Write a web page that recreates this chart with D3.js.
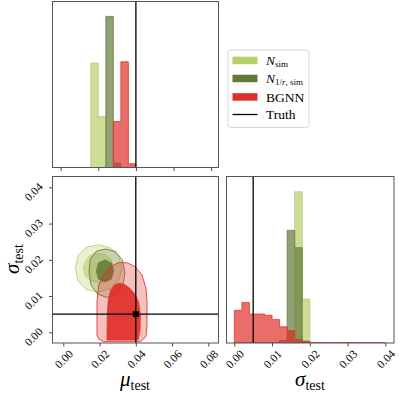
<!DOCTYPE html>
<html><head><meta charset="utf-8">
<script src="https://cdn.jsdelivr.net/npm/d3@7"></script>
<style>body{margin:0;background:#fff}svg{display:block}</style>
</head><body>
<svg id="c" width="399" height="396"></svg>
<script>
// ---------- data ----------
const muTicks = [0, 0.02, 0.04, 0.06, 0.08];
const sigmaTicks = [0, 0.01, 0.02, 0.03, 0.04];
const truthMu = 0.04, truthSigma = 0.005;

// mu histograms: 20 bins, width 0.004, from 0
const muBinStart = 0, muBinWidth = 0.004;
const muNsim  = [0,0,0,0,168,82,0,0,0,0,0,0,0,0,0,0,0,0,0,0];
const muN1r   = [0,0,0,0,0,0,243,7,0,0,0,0,0,0,0,0,0,0,0,0];
const muBGNN  = [0,0,0,0,0,0,0,74,170,6,0,0,0,0,0,0,0,0,0,0];

// sigma histograms: 20 bins, width 0.002, from 0
const sgBinStart = 0, sgBinWidth = 0.002;
const sgNsim  = [0,0,0,0,0,0,0,25,365,106,0,0,0,0,0,0,0,0,0,0];
const sgN1r   = [0,0,0,0,0,0,6,272,230,4,0,0,0,0,0,0,0,0,0,0];
const sgBGNN  = [79,98,70,70,67,57,39,30,8,4,0,0,0,0,0,0,0,0,0,0];

// 2D credible contours [mu, sigma]
const nsimOuter = [[0.03247,0.01760],[0.03073,0.02077],[0.02604,0.02331],[0.01953,0.02414],[0.01308,0.02353],[0.00839,0.02132],[0.00662,0.01760],[0.00811,0.01415],[0.01252,0.01181],[0.01953,0.01112],[0.02632,0.01208],[0.03073,0.01443]];
const nsimInner = [[0.02759,0.01774],[0.02648,0.01994],[0.02317,0.02146],[0.01942,0.02174],[0.01490,0.02132],[0.01225,0.01967],[0.01114,0.01774],[0.01225,0.01553],[0.01528,0.01415],[0.01942,0.01374],[0.02356,0.01415],[0.02648,0.01553]];
const n1rOuter = [[0.03404,0.01636],[0.03266,0.01994],[0.02880,0.02229],[0.02356,0.02298],[0.01832,0.02243],[0.01490,0.02022],[0.01418,0.01663],[0.01528,0.01305],[0.01887,0.01057],[0.02411,0.00960],[0.02963,0.01070],[0.03294,0.01305]];
const n1rInner = [[0.02770,0.01691],[0.02648,0.01912],[0.02301,0.01994],[0.01942,0.01912],[0.01832,0.01691],[0.01942,0.01470],[0.02301,0.01388],[0.02648,0.01470]];
const bgnnOuter = [[0.01859,0.00844],[0.01953,0.01305],[0.02229,0.01581],[0.02593,0.01810],[0.03057,0.01920],[0.03514,0.01920],[0.03972,0.01810],[0.04342,0.01581],[0.04563,0.01214],[0.04618,0.00844],[0.04618,0.00201],[0.04563,-0.00121],[0.04248,-0.00259],[0.02229,-0.00259],[0.01953,-0.00185],[0.01859,-0.00074]];
const bgnnInner = [[0.02411,-0.00212],[0.02428,0.00477],[0.02483,0.00891],[0.02604,0.01139],[0.02797,0.01291],[0.03073,0.01352],[0.03377,0.01319],[0.03680,0.01208],[0.03956,0.01043],[0.04149,0.00836],[0.04248,0.00477],[0.04232,0.00063],[0.04121,-0.00212]];

// ---------- styles ----------
const cLight = "#b5cf6b", cDark = "#637939", cRed = "#e02f28";
const serif = "'Liberation Serif','DejaVu Serif',serif";

const svg = d3.select("#c");
const P = {
  tl: {x0:52.5, x1:218.5, y0:1.5, y1:167.5},
  bl: {x0:52.5, x1:218.5, y0:176.5, y1:343},
  br: {x0:226.5, x1:394, y0:176.5, y1:343}
};
const xTop = d3.scaleLinear().domain([-0.00436, 0.08394]).range([P.tl.x0, P.tl.x1]);
const yTop = d3.scaleLinear().domain([0, 267]).range([P.tl.y1, P.tl.y0]);
const xBL = d3.scaleLinear().domain([-0.00596, 0.08563]).range([P.bl.x0, P.bl.x1]);
const yBL = d3.scaleLinear().domain([-0.00295, 0.04298]).range([P.bl.y1, P.bl.y0]);
const xBR = d3.scaleLinear().domain([-0.00207, 0.0423]).range([P.br.x0, P.br.x1]);
const yBR = d3.scaleLinear().domain([0, 402]).range([P.br.y1, P.br.y0]);

const defs = svg.append("defs");
Object.entries(P).forEach(([k,p]) => {
  defs.append("clipPath").attr("id","clip-"+k).append("rect")
    .attr("x",p.x0).attr("y",p.y0).attr("width",p.x1-p.x0).attr("height",p.y1-p.y0);
});

function hist(g, vals, start, w, x, y, color) {
  const pts = vals.map((v,i) => [start + i*w, v]);
  pts.push([start + vals.length*w, vals[vals.length-1]]);
  const area = d3.area().curve(d3.curveStepAfter)
    .x(d => x(d[0])).y0(y(0)).y1(d => y(d[1]));
  g.append("path").attr("d", area(pts))
    .attr("fill", color).attr("fill-opacity", 0.7)
    .attr("stroke", color).attr("stroke-opacity", 0.75).attr("stroke-width", 1);
}

// top histogram
const gT = svg.append("g").attr("clip-path","url(#clip-tl)");
hist(gT, muNsim, muBinStart, muBinWidth, xTop, yTop, cLight);
hist(gT, muN1r, muBinStart, muBinWidth, xTop, yTop, cDark);
hist(gT, muBGNN, muBinStart, muBinWidth, xTop, yTop, cRed);
gT.append("line").attr("x1",xTop(truthMu)).attr("x2",xTop(truthMu))
  .attr("y1",P.tl.y0).attr("y2",P.tl.y1).attr("stroke","#000").attr("stroke-width",1.3);

// right histogram
const gR = svg.append("g").attr("clip-path","url(#clip-br)");
hist(gR, sgNsim, sgBinStart, sgBinWidth, xBR, yBR, cLight);
hist(gR, sgN1r, sgBinStart, sgBinWidth, xBR, yBR, cDark);
hist(gR, sgBGNN, sgBinStart, sgBinWidth, xBR, yBR, cRed);
gR.append("line").attr("x1",xBR(truthSigma)).attr("x2",xBR(truthSigma))
  .attr("y1",P.br.y0).attr("y2",P.br.y1).attr("stroke","#000").attr("stroke-width",1.3);

// contours
const gC = svg.append("g").attr("clip-path","url(#clip-bl)");
const line = d3.line().curve(d3.curveLinearClosed).x(d => xBL(d[0])).y(d => yBL(d[1]));
function contour(outer, inner, color, aOut, aIn) {
  gC.append("path").attr("d", line(outer)).attr("fill", color).attr("fill-opacity", aOut)
    .attr("stroke", color).attr("stroke-width", 1).attr("stroke-opacity", 0.85);
  gC.append("path").attr("d", line(inner)).attr("fill", color).attr("fill-opacity", aIn)
    .attr("stroke", color).attr("stroke-width", 1).attr("stroke-opacity", 0.85);
}
contour(nsimOuter, nsimInner, cLight, 0.3, 0.55);
contour(n1rOuter, n1rInner, cDark, 0.25, 0.85);
contour(bgnnOuter, bgnnInner, cRed, 0.3, 0.92);
gC.append("line").attr("x1",xBL(truthMu)).attr("x2",xBL(truthMu))
  .attr("y1",P.bl.y0).attr("y2",P.bl.y1).attr("stroke","#000").attr("stroke-width",1.3);
gC.append("line").attr("x1",P.bl.x0).attr("x2",P.bl.x1)
  .attr("y1",yBL(truthSigma)).attr("y2",yBL(truthSigma)).attr("stroke","#000").attr("stroke-width",1.3);
gC.append("rect").attr("x",xBL(truthMu)-3).attr("y",yBL(truthSigma)-3)
  .attr("width",6).attr("height",6).attr("fill","#000");

// axes
const fmt = d3.format(".2f");
function styleAxis(g) {
  g.select(".domain").remove();
  g.selectAll(".tick line").attr("stroke","#333").attr("stroke-width",0.9);
  g.selectAll("text").attr("font-family", serif).attr("font-size", 11.5).attr("fill","#000");
}
const axT = svg.append("g").attr("transform",`translate(0,${P.tl.y1})`)
  .call(d3.axisBottom(xTop).tickValues(muTicks).tickSize(3.5).tickFormat(""));
styleAxis(axT);

const axB = svg.append("g").attr("transform",`translate(0,${P.bl.y1})`)
  .call(d3.axisBottom(xBL).tickValues(muTicks).tickSize(3.5).tickFormat(fmt));
styleAxis(axB);
axB.selectAll(".tick text").attr("y",0).attr("dy","0.35em").attr("text-anchor","middle")
  .attr("transform","translate(0,16) rotate(-45)");

const axL = svg.append("g").attr("transform",`translate(${P.bl.x0},0)`)
  .call(d3.axisLeft(yBL).tickValues(sigmaTicks).tickSize(3.5).tickFormat(fmt));
styleAxis(axL);
axL.selectAll(".tick text").attr("x",0).attr("dy","0.35em").attr("text-anchor","middle")
  .attr("transform","translate(-19,4) rotate(-45)");

const axR = svg.append("g").attr("transform",`translate(0,${P.br.y1})`)
  .call(d3.axisBottom(xBR).tickValues(sigmaTicks).tickSize(3.5).tickFormat(fmt));
styleAxis(axR);
axR.selectAll(".tick text").attr("y",0).attr("dy","0.35em").attr("text-anchor","middle")
  .attr("transform","translate(0,16) rotate(-45)");

// frames
Object.values(P).forEach(p => {
  svg.append("rect").attr("x",p.x0).attr("y",p.y0).attr("width",p.x1-p.x0).attr("height",p.y1-p.y0)
    .attr("fill","none").attr("stroke","#555").attr("stroke-width",1);
});

// axis labels
function label(x, y, sym, rot) {
  const t = svg.append("text").attr("font-family", serif).attr("fill","#000")
    .attr("text-anchor","middle")
    .attr("transform", `translate(${x},${y})` + (rot ? ` rotate(${rot})` : ""));
  t.append("tspan").attr("font-style","italic").attr("font-size",21).text(sym);
  t.append("tspan").attr("font-size",14).attr("dy",4).text("test");
}
label(135, 386, "μ", 0);
label(310, 386, "σ", 0);
label(19, 259, "σ", -90);

// legend
const lg = svg.append("g");
lg.append("rect").attr("x",228).attr("y",50).attr("width",81).attr("height",77.5).attr("rx",3)
  .attr("fill","#fff").attr("fill-opacity",0.85).attr("stroke","#d3d3d3").attr("stroke-width",0.9);
const legendY = [60.5, 78.5, 97];
[cLight, cDark, cRed].forEach((c,i) => {
  lg.append("rect").attr("x",232.5).attr("y",legendY[i]-3.8).attr("width",25).attr("height",7.5).attr("fill",c);
});
lg.append("line").attr("x1",232.5).attr("x2",257.5).attr("y1",114.5).attr("y2",114.5)
  .attr("stroke","#000").attr("stroke-width",1.3);
function ltxt(y) {
  return lg.append("text").attr("x",266).attr("y",y).attr("font-family",serif).attr("font-size",13.5).attr("fill","#000");
}
let t1 = ltxt(64.5);
t1.append("tspan").attr("font-style","italic").text("N");
t1.append("tspan").attr("font-size",9).attr("dy",2.5).text("sim");
let t2 = ltxt(82.5);
t2.append("tspan").attr("font-style","italic").text("N");
t2.append("tspan").attr("font-size",9).attr("dy",2.5).text("1/");
t2.append("tspan").attr("font-size",9).attr("font-style","italic").text("r");
t2.append("tspan").attr("font-size",9).text(", sim");
ltxt(101.5).text("BGNN");
ltxt(118.5).text("Truth");
</script>
</body></html>
